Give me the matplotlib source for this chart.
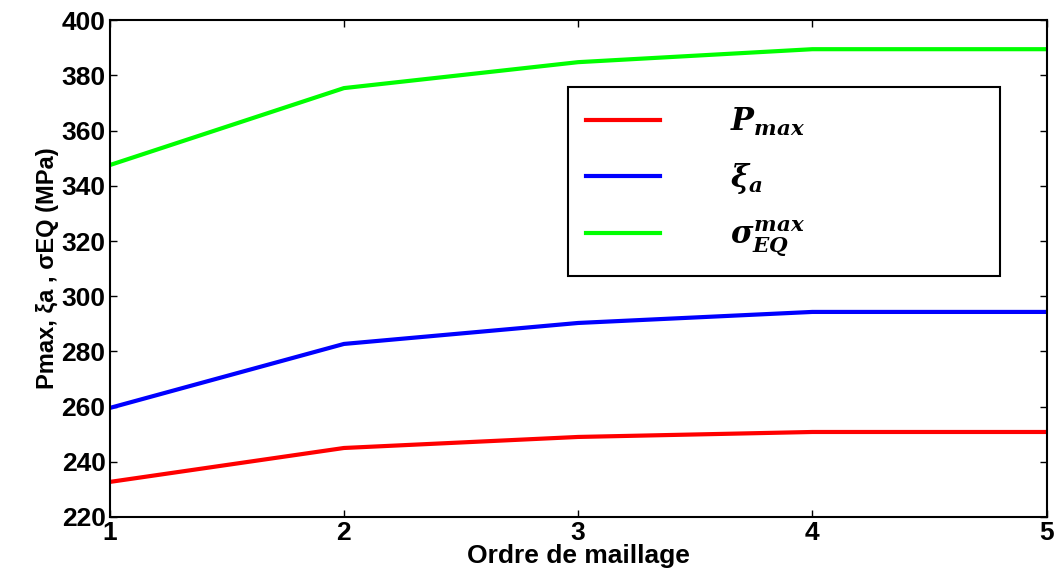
import numpy as np
import matplotlib
matplotlib.use('Agg')
import matplotlib.pyplot as plt

plt.rcParams['font.family'] = ['Liberation Sans', 'DejaVu Sans']
plt.rcParams['mathtext.fontset'] = 'custom'
plt.rcParams['mathtext.it'] = 'DejaVu Serif:italic:bold'
plt.rcParams['mathtext.rm'] = 'DejaVu Serif:bold'

ordre = [1, 2, 3, 4, 5]
p_max = [232.7, 245.0, 249.0, 250.8, 250.8]
xi_a = [259.5, 282.7, 290.3, 294.3, 294.3]
sigma_eq = [347.5, 375.4, 384.8, 389.5, 389.5]

labels = [r'$P_{max}$', r'$\xi_{a}$', r'$\sigma_{EQ}^{max}$']

fig = plt.figure(figsize=(10.55, 5.71), dpi=100)
ax = fig.add_axes([0.104, 0.0946, 0.888, 0.870])

ax.plot(ordre, p_max, color='#ff0000', lw=3, label=labels[0])
ax.plot(ordre, xi_a, color='#0000ff', lw=3, label=labels[1])
ax.plot(ordre, sigma_eq, color='#00ff00', lw=3, label=labels[2])

ax.set_xlim(1, 5)
ax.set_ylim(220, 400)
ax.set_xticks(ordre)
ax.set_yticks(np.arange(220, 401, 20))
ax.tick_params(direction='in', top=True, right=True, length=5, width=1,
               labelsize=19, pad=3)
for lab in ax.get_xticklabels() + ax.get_yticklabels():
    lab.set_fontweight('heavy')
for s in ax.spines.values():
    s.set_linewidth(1.5)

ax.set_xlabel('Ordre de maillage', fontsize=19, fontweight='bold', labelpad=-1)
ax.set_ylabel('Pmax, \u03bea , \u03c3EQ (MPa)', fontsize=17, fontweight='bold',
              labelpad=2)

leg = ax.legend(loc='upper left', bbox_to_anchor=(0.489, 0.471, 0.461, 0.394),
                mode='expand', fontsize=22,
                handlelength=2.4, handletextpad=2.3, labelspacing=0.75,
                borderpad=0.6, borderaxespad=0, fancybox=False,
                edgecolor='black', framealpha=1)
leg.get_frame().set_linewidth(1.5)
fig.canvas.draw()
# stretch the legend frame down to the box seen in the reference
frame = leg.get_frame()
bb = frame.get_bbox()
y_bottom = ax.transAxes.transform((0, 0.471))[1]
frame.set_bounds(bb.x0, y_bottom, bb.width, bb.y1 - y_bottom)

fig.savefig('out.png', dpi=100)
